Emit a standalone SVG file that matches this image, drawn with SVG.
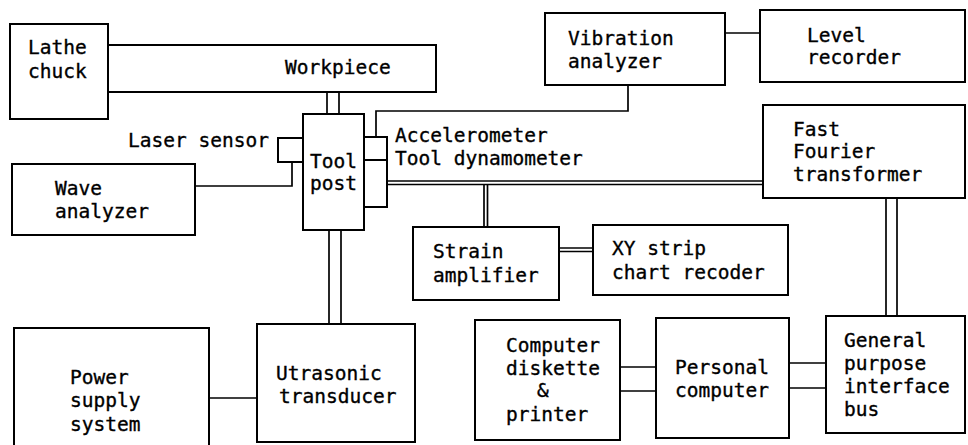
<svg xmlns="http://www.w3.org/2000/svg" width="968" height="445" viewBox="0 0 968 445">
<style>
.box{fill:#fff;stroke:#000;stroke-width:2}
.ln{fill:none;stroke:#000;stroke-width:1.7}
text{font-family:"DejaVu Sans Mono","Liberation Mono",monospace;font-size:19.5px;fill:#000;stroke:#000;stroke-width:0.35}
</style>
<rect width="968" height="445" fill="#fff"/>
<g id="connectors">
  <line class="ln" x1="327" y1="92" x2="327" y2="114"/>
  <line class="ln" x1="339" y1="92" x2="339" y2="114"/>
  <polyline class="ln" points="292,162 292,186 195,186"/>
  <polyline class="ln" points="376,137 376,111 628,111 628,85"/>
  <line class="ln" x1="725" y1="33" x2="760" y2="33"/>
  <line class="ln" x1="387" y1="181" x2="763" y2="181"/>
  <line class="ln" x1="387" y1="184.5" x2="763" y2="184.5"/>
  <line class="ln" x1="484" y1="184.5" x2="484" y2="227"/>
  <line class="ln" x1="487.5" y1="184.5" x2="487.5" y2="227"/>
  <line class="ln" x1="559" y1="248" x2="593" y2="248"/>
  <line class="ln" x1="559" y1="251.5" x2="593" y2="251.5"/>
  <line class="ln" x1="886" y1="198" x2="886" y2="316"/>
  <line class="ln" x1="897" y1="198" x2="897" y2="316"/>
  <line class="ln" x1="329" y1="230" x2="329" y2="324"/>
  <line class="ln" x1="341" y1="230" x2="341" y2="324"/>
  <line class="ln" x1="209" y1="398" x2="257" y2="398"/>
  <line class="ln" x1="620" y1="367" x2="656" y2="367"/>
  <line class="ln" x1="620" y1="391" x2="656" y2="391"/>
  <line class="ln" x1="789" y1="363" x2="826" y2="363"/>
  <line class="ln" x1="789" y1="388" x2="826" y2="388"/>
</g>
<g id="workpiece">
  <rect class="box" x="108" y="45" width="328" height="47"/>
  <text x="285" y="74">Workpiece</text>
</g>
<g id="lathe-chuck">
  <rect class="box" x="10" y="24" width="98" height="95"/>
  <text x="28" y="54">Lathe</text>
  <text x="28" y="78">chuck</text>
</g>
<g id="tool-post">
  <rect class="box" x="303" y="114" width="61" height="116"/>
  <text x="310" y="168">Tool</text>
  <text x="310" y="190">post</text>
</g>
<g id="laser-sensor">
  <rect class="box" x="278" y="138" width="25" height="24"/>
  <text x="128" y="147">Laser sensor</text>
</g>
<g id="accelerometer">
  <rect class="box" x="364" y="137" width="23" height="23"/>
  <text x="395" y="142">Accelerometer</text>
</g>
<g id="tool-dynamometer">
  <rect class="box" x="364" y="160" width="23" height="47"/>
  <text x="395" y="165">Tool dynamometer</text>
</g>
<g id="wave-analyzer">
  <rect class="box" x="12" y="164" width="183" height="71"/>
  <text x="55" y="195">Wave</text>
  <text x="55" y="218">analyzer</text>
</g>
<g id="vibration-analyzer">
  <rect class="box" x="545" y="13" width="180" height="72"/>
  <text x="568" y="45">Vibration</text>
  <text x="568" y="68">analyzer</text>
</g>
<g id="level-recorder">
  <rect class="box" x="760" y="10" width="205" height="72"/>
  <text x="807" y="42">Level</text>
  <text x="807" y="64">recorder</text>
</g>
<g id="fft">
  <rect class="box" x="763" y="105" width="202" height="93"/>
  <text x="793" y="136">Fast</text>
  <text x="793" y="158">Fourier</text>
  <text x="793" y="181">transformer</text>
</g>
<g id="strain-amplifier">
  <rect class="box" x="413" y="227" width="146" height="73"/>
  <text x="433" y="258">Strain</text>
  <text x="433" y="282">amplifier</text>
</g>
<g id="xy-recorder">
  <rect class="box" x="593" y="225" width="195" height="70"/>
  <text x="612" y="255">XY strip</text>
  <text x="612" y="279">chart recoder</text>
</g>
<g id="power-supply">
  <rect class="box" x="14" y="328" width="195" height="118"/>
  <text x="70" y="384">Power</text>
  <text x="70" y="407">supply</text>
  <text x="70" y="431">system</text>
</g>
<g id="ultrasonic-transducer">
  <rect class="box" x="257" y="324" width="158" height="118"/>
  <text x="276" y="380">Utrasonic</text>
  <text x="279" y="403">transducer</text>
</g>
<g id="computer-diskette">
  <rect class="box" x="475" y="320" width="145" height="120"/>
  <text x="506" y="352">Computer</text>
  <text x="506" y="375">diskette</text>
  <text x="537" y="397">&amp;</text>
  <text x="506" y="421">printer</text>
</g>
<g id="personal-computer">
  <rect class="box" x="656" y="318" width="133" height="120"/>
  <text x="675" y="374">Personal</text>
  <text x="675" y="397">computer</text>
</g>
<g id="gpib">
  <rect class="box" x="826" y="316" width="139" height="117"/>
  <text x="844" y="347">General</text>
  <text x="844" y="370">purpose</text>
  <text x="844" y="393">interface</text>
  <text x="844" y="416">bus</text>
</g>
</svg>
